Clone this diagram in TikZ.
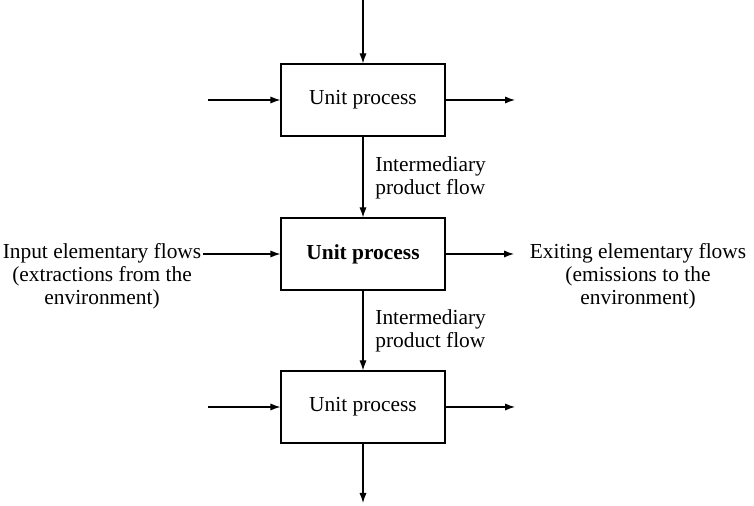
\documentclass[tikz,border=0pt]{standalone}
\usepackage{fontspec}
\setmainfont{Liberation Serif}
\usetikzlibrary{arrows.meta}
\tikzset{
  unitbox/.style={draw, line width=0.6pt, minimum width=82pt, minimum height=36pt, inner sep=0pt},
  flow/.style={line width=0.6pt, -{Latex[length=5pt,width=3.6pt]}},
  flowlbl/.style={align=center, inner sep=0pt},
}
\begin{document}
\begin{tikzpicture}[x=0.5pt, y=-0.5pt, every node/.style={font=\fontsize{10.7}{11.4}\selectfont}]
\useasboundingbox (0,0) rectangle (754,506);
% Unit processes
\node[unitbox] (up1) at (363,100) {Unit process};
\node[unitbox] (up2) at (363,254) {\textbf{Unit process}};
\node[unitbox] (up3) at (363,407) {Unit process};
% Free ends of the flows
\coordinate (src) at (363,0); \coordinate (sink) at (363,503);
\coordinate (in1) at (208,100); \coordinate (out1) at (515,100);
\coordinate (in2) at (203,254); \coordinate (out2) at (514,254);
\coordinate (in3) at (208,407); \coordinate (out3) at (515,407);
% Product flows along the chain
\draw[flow] (src) -- (up1);
\draw[flow] (up1) -- (up2);
\draw[flow] (up2) -- (up3);
\draw[flow] (up3) -- (sink);
% Elementary flows
\draw[flow] (in1) -- (up1); \draw[flow] (up1) -- (out1);
\draw[flow] (in2) -- (up2); \draw[flow] (up2) -- (out2);
\draw[flow] (in3) -- (up3); \draw[flow] (up3) -- (out3);
% Labels
\node[flowlbl, align=left, anchor=west] (ip1) at (375,178) {Intermediary\\product flow};
\node[flowlbl, align=left, anchor=west] (ip2) at (375,331) {Intermediary\\product flow};
\node[flowlbl] (inlbl) at (102,276) {Input elementary flows\\(extractions from the\\environment)};
\node[flowlbl] (outlbl) at (638,276) {Exiting elementary flows\\(emissions to the\\environment)};
\end{tikzpicture}
\end{document}
